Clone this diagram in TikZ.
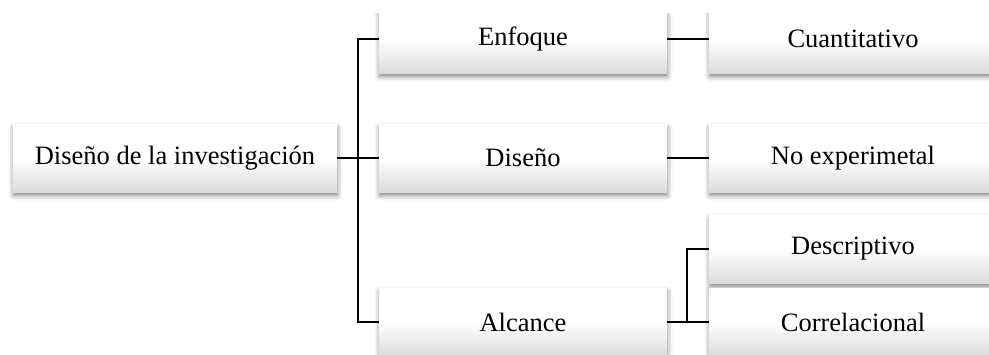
\documentclass[tikz,border=0pt]{standalone}
\usepackage{fontspec}
\setmainfont{Liberation Serif}
\usetikzlibrary{shadows.blur}

\begin{document}
\begin{tikzpicture}[
  x=1pt, y=-1pt,
  every node/.style = {minimum height=68pt, inner sep=0pt, font=\fontsize{26.5}{32}\selectfont,
    top color=white, bottom color=black!14, middle color=white,
    blur shadow={shadow xshift=0.5pt, shadow yshift=-3.5pt, shadow blur radius=5pt, shadow opacity=50}},
  wide/.style = {minimum width=288pt},
  link/.style = {line width=2.6pt, draw}
]
  \useasboundingbox (0,0) rectangle (989,354);
  \clip (0,13) rectangle (989,354);
  % root of the tree
  \node[minimum width=324pt] (root) at (175,158) {Diseño de la investigación};
  % second level
  \node[wide] (enfoque) at (523,39) {Enfoque};
  \node[wide] (diseno) at (523,158) {Diseño};
  \node[wide] (alcance) at (523,322) {Alcance};
  % third level
  \node[wide] (cuanti) at (853,39) {Cuantitativo};
  \node[wide] (noexp) at (853,158) {No experimetal};
  \node[wide] (descr) at (853,249) {Descriptivo};
  \node[wide] (correl) at (853,322) {Correlacional};

  \coordinate (fork) at (358,158);
  \coordinate (split) at (687,322);

  \draw[link] (root.east) -- (diseno.west);
  \draw[link] (enfoque.west) -| (fork) |- (alcance.west);
  \draw[link] (enfoque.east) -- (cuanti.west);
  \draw[link] (diseno.east) -- (noexp.west);
  \draw[link] (alcance.east) -- (correl.west);
  \draw[link] (descr.west) -| (split);
\end{tikzpicture}
\end{document}
